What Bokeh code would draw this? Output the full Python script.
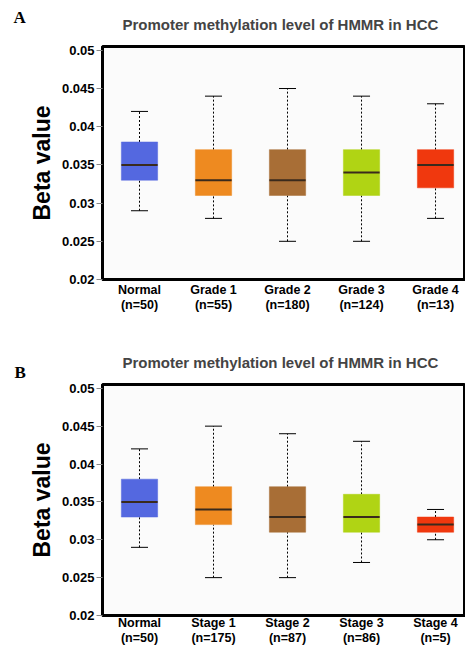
from bokeh.plotting import figure
from bokeh.models import (Range1d, FixedTicker, Label, ColumnDataSource)
from bokeh.layouts import column
from bokeh.embed import file_html
from bokeh.resources import INLINE

# ---------------- data ----------------
colors = ["#5468e0", "#ee8a20", "#a86e36", "#b0d414", "#f0380e"]

cats_a = ["Normal", "Grade 1", "Grade 2", "Grade 3", "Grade 4"]
n_a = [50, 55, 180, 124, 13]
low_a = [0.029, 0.028, 0.025, 0.025, 0.028]
q1_a = [0.033, 0.031, 0.031, 0.031, 0.032]
med_a = [0.035, 0.033, 0.033, 0.034, 0.035]
q3_a = [0.038, 0.037, 0.037, 0.037, 0.037]
high_a = [0.042, 0.044, 0.045, 0.044, 0.043]

cats_b = ["Normal", "Stage 1", "Stage 2", "Stage 3", "Stage 4"]
n_b = [50, 175, 87, 86, 5]
low_b = [0.029, 0.025, 0.025, 0.027, 0.030]
q1_b = [0.033, 0.032, 0.031, 0.031, 0.031]
med_b = [0.035, 0.034, 0.033, 0.033, 0.032]
q3_b = [0.038, 0.037, 0.037, 0.036, 0.033]
high_b = [0.042, 0.045, 0.044, 0.043, 0.034]

y_ticks = [0.02, 0.025, 0.03, 0.035, 0.04, 0.045, 0.05]
y_tick_labels = ["0.02", "0.025", "0.03", "0.035", "0.04", "0.045", "0.05"]

TITLE = "Promoter methylation level of HMMR in HCC"
Y_TITLE = "Beta value"
FONT = "Liberation Sans"
X_MIN, X_MAX = 0, 4.905
Y_MIN, Y_MAX = 0.02, 0.0505
BOX_W = 0.49
CAP_W = 0.23


def make_panel(letter, cats, ns, low, q1, med, q3, high, height, bottom_border, x_standoff, letter_y):
    pos = [i + 0.5 for i in range(len(cats))]
    p = figure(width=465, height=height,
               x_range=Range1d(X_MIN, X_MAX), y_range=Range1d(Y_MIN, Y_MAX),
               output_backend="svg", toolbar_location=None,
               min_border_left=102, min_border_right=0,
               min_border_top=45, min_border_bottom=bottom_border,
               background_fill_color="#fbfbfb", border_fill_color="white")
    # thick black frame border (top edge visible, left/bottom coincide with axes)
    p.outline_line_color = "black"
    p.outline_line_width = 3
    p.grid.visible = False

    p.title.text = TITLE
    p.title.text_font = FONT
    p.title.text_font_size = "15px"
    p.title.text_font_style = "bold"
    p.title.align = "left"
    p.title.offset = 20
    p.title.standoff = 27

    src = ColumnDataSource(dict(x=pos, low=low, q1=q1, med=med, q3=q3, high=high,
                                color=colors,
                                xl=[v - BOX_W / 2 for v in pos], xr=[v + BOX_W / 2 for v in pos],
                                cl=[v - CAP_W / 2 for v in pos], cr=[v + CAP_W / 2 for v in pos]))

    # whisker stems
    p.segment(x0="x", y0="low", x1="x", y1="q1", source=src,
              line_color="black", line_width=1, line_dash="2 2")
    p.segment(x0="x", y0="q3", x1="x", y1="high", source=src,
              line_color="black", line_width=1, line_dash="2 2")
    # caps
    p.segment(x0="cl", y0="low", x1="cr", y1="low", source=src,
              line_color="black", line_width=1)
    p.segment(x0="cl", y0="high", x1="cr", y1="high", source=src,
              line_color="black", line_width=1)
    # boxes
    p.vbar(x="x", width=BOX_W, bottom="q1", top="q3", source=src,
           fill_color="color", line_color="color", line_alpha=0.5)
    # medians
    p.segment(x0="xl", y0="med", x1="xr", y1="med", source=src,
              line_color="#3a2a1c", line_width=2)

    # y axis
    ya = p.yaxis[0]
    ya.ticker = FixedTicker(ticks=y_ticks)
    ya.major_label_overrides = {t: l for t, l in zip(y_ticks, y_tick_labels)}
    ya.minor_tick_line_color = None
    ya.major_tick_in = 0
    ya.major_tick_out = 6
    ya.major_tick_line_color = "#888888"
    ya.axis_line_width = 3
    ya.axis_line_color = "black"
    ya.major_label_text_font = FONT
    ya.major_label_text_font_style = "bold"
    ya.major_label_text_font_size = "13px"
    ya.major_label_text_color = "black"
    ya.major_label_standoff = 2
    ya.axis_label = Y_TITLE
    ya.axis_label_text_font = FONT
    ya.axis_label_text_font_style = "bold"
    ya.axis_label_text_font_size = "23px"
    ya.axis_label_text_color = "black"
    ya.axis_label_standoff = 4

    # x axis
    xa = p.xaxis[0]
    xa.ticker = FixedTicker(ticks=pos)
    xa.major_label_overrides = {v: f"{c}\n(n={n})" for v, c, n in zip(pos, cats, ns)}
    xa.minor_tick_line_color = None
    xa.major_tick_line_color = None
    xa.major_tick_out = 0
    xa.major_tick_in = 0
    xa.axis_line_width = 3
    xa.axis_line_color = "black"
    xa.major_label_text_font = FONT
    xa.major_label_text_font_style = "bold"
    xa.major_label_text_font_size = "12.5px"
    xa.major_label_text_line_height = 1.1
    xa.major_label_text_color = "black"
    xa.major_label_standoff = x_standoff

    # panel letter, placed in the left side panel (not clipped to the frame)
    p.add_layout(Label(x=0, y=letter_y, x_units="screen", y_units="screen", text=letter,
                       text_font="Liberation Serif", text_font_style="bold",
                       text_font_size="17px", text_baseline="middle", text_color="black"),
                 "left")
    return p


pa = make_panel("A", cats_a, n_a, low_a, q1_a, med_a, q3_a, high_a, 338, 59, 3, 279 - 17)
pb = make_panel("B", cats_b, n_b, low_b, q1_b, med_b, q3_b, high_b, 309, 30, 0, 279 - 35.5)

layout = column(pa, pb, spacing=0)
open("out.html", "w").write(file_html(layout, INLINE))
